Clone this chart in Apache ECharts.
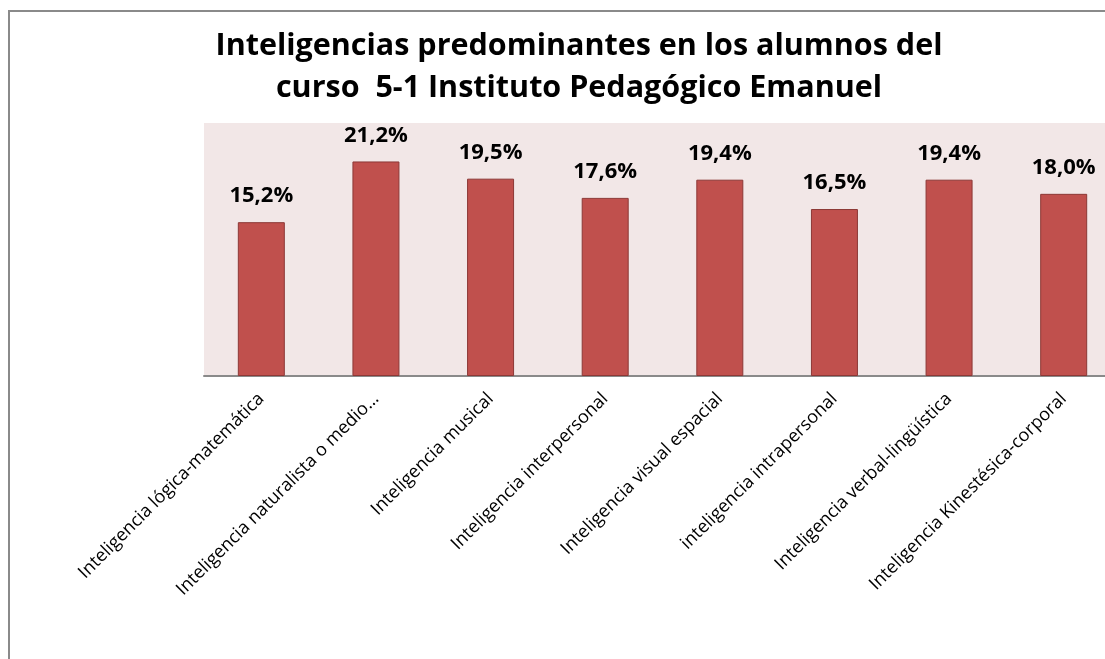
<!DOCTYPE html>
<html>
<head>
<meta charset="utf-8">
<script src="https://cdn.jsdelivr.net/npm/echarts@6/dist/echarts.min.js"></script>
<style>
  html, body { margin: 0; padding: 0; background: #fff; }
  #main { width: 1105px; height: 659px; }
</style>
</head>
<body>
<div id="main"></div>
<script>
// categorias y porcentajes
const categories = [
  'Inteligencia lógica-matemática',
  'Inteligencia naturalista o medio…',
  'Inteligencia musical',
  'Inteligencia interpersonal',
  'Inteligencia visual espacial',
  'inteligencia intrapersonal',
  'Inteligencia verbal-lingüística',
  'Inteligencia Kinestésica-corporal'
]
const percents = [15.2, 21.2, 19.5, 17.6, 19.4, 16.5, 19.4, 18.0]
const titleLines = [
  'Inteligencias predominantes en los alumnos del',
  'curso  5-1 Instituto Pedagógico Emanuel'
]

const font = '"Open Sans", Lato, sans-serif'

const option = {
  backgroundColor: '#fff',
  animation: false,
  title: {
    text: titleLines.join('\n'),
    left: 574,
    top: 20,
    textAlign: 'center',
    textStyle: {
      fontFamily: font,
      fontWeight: 'bold',
      fontSize: 30.5,
      lineHeight: 42,
      color: '#000'
    }
  },
  graphic: [{
    type: 'rect',
    shape: { x: 9, y: 11, width: 1200, height: 800 },
    style: { fill: 'none', stroke: '#8a8a8a', lineWidth: 2 },
    silent: true
  }],
  grid: {
    left: 204,
    top: 123,
    width: 917,
    height: 253,
    outerBoundsMode: 'none',
    show: true,
    backgroundColor: '#F2E7E7',
    borderWidth: 0
  },
  xAxis: {
    type: 'category',
    data: categories,
    // linea del eje
    axisLine: { lineStyle: { color: '#8a8a8a', width: 2 } },
    axisTick: { show: false },
    axisLabel: {
      rotate: 45,
      interval: 0,
      margin: 20,
      color: '#000',
      fontFamily: font,
      fontSize: 18
    }
  },
  yAxis: {
    type: 'value',
    min: 0,
    max: 25,
    show: false,
    splitLine: { show: false }
  },
  series: [{
    type: 'bar',
    data: percents,
    barWidth: 47,
    itemStyle: {
      color: '#C0504D',
      borderColor: '#8C3836',
      borderWidth: 1
    },
    label: {
      show: true,
      position: 'top',
      distance: 15,
      color: '#000',
      fontFamily: font,
      fontWeight: 'bold',
      fontSize: 22,
      formatter: p => p.value.toFixed(1).replace('.', ',') + '%'
    }
  }]
}

echarts.init(document.getElementById('main')).setOption(option)
</script>
</body>
</html>
